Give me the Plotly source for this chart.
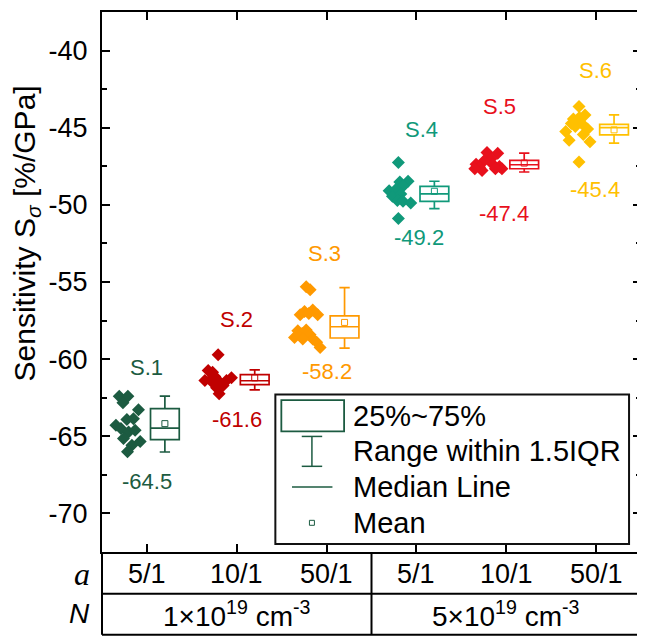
import plotly.graph_objects as go

# ---------------- data ----------------
samples = ["S.1", "S.2", "S.3", "S.4", "S.5", "S.6"]
ratio_labels = ["5/1", "10/1", "50/1", "5/1", "10/1", "50/1"]
doping_labels = ["1×10<sup>19</sup> cm<sup>-3</sup>", "5×10<sup>19</sup> cm<sup>-3</sup>"]
median_text = ["-64.5", "-61.6", "-58.2", "-49.2", "-47.4", "-45.4"]
colors = ["#1C5B41", "#C00000", "#FF9900", "#10997A", "#E8101C", "#FFC000"]
y_tick_vals = [-40, -45, -50, -55, -60, -65, -70]
y_tick_text = ["-40", "-45", "-50", "-55", "-60", "-65", "-70"]

s1_vals = [-62.40, -62.40, -62.83, -63.28, -63.92, -63.86, -64.29, -64.50, -64.72, -64.61, -65.15, -65.33, -65.58, -66.01]
s1_jit = [-0.308, -0.212, -0.267, -0.094, -0.223, -0.150, -0.345, -0.289, -0.204, -0.131, -0.261, -0.075, -0.167, -0.216]
s2_vals = [-59.71, -60.74, -60.85, -61.39, -61.34, -61.13, -61.60, -61.50, -61.39, -61.21, -61.71, -61.86, -62.25]
s2_jit = [-0.207, -0.318, -0.269, -0.355, -0.292, -0.244, -0.255, -0.188, -0.114, -0.059, -0.152, -0.225, -0.196]
s3_vals = [-55.30, -55.51, -57.13, -56.91, -56.82, -57.13, -57.04, -58.16, -58.33, -58.59, -58.11, -58.42, -58.69, -58.91, -59.24, -58.69]
s3_jit = [-0.227, -0.183, -0.294, -0.246, -0.154, -0.099, -0.198, -0.320, -0.272, -0.357, -0.227, -0.183, -0.154, -0.110, -0.072, -0.265]
s4_vals = [-47.25, -48.52, -48.47, -48.80, -49.08, -49.01, -49.44, -49.29, -49.72, -49.77, -49.88, -50.88]
s4_jit = [-0.201, -0.185, -0.093, -0.149, -0.304, -0.229, -0.267, -0.174, -0.212, -0.149, -0.063, -0.201]
s5_vals = [-46.60, -46.65, -47.01, -47.18, -47.36, -47.51, -47.66, -47.36, -47.57, -47.78, -47.66, -47.66]
s5_jit = [-0.214, -0.095, -0.170, -0.251, -0.151, -0.076, -0.048, -0.336, -0.298, -0.269, -0.121, -0.350]
s6_vals = [-43.63, -44.17, -44.43, -44.34, -44.60, -44.71, -44.73, -44.92, -45.25, -45.09, -45.44, -45.81, -45.91, -47.22]
s6_jit = [-0.190, -0.123, -0.253, -0.186, -0.220, -0.164, -0.275, -0.231, -0.338, -0.094, -0.142, -0.300, -0.068, -0.190]

point_values = [s1_vals, s2_vals, s3_vals, s4_vals, s5_vals, s6_vals]
point_jitter = [s1_jit, s2_jit, s3_jit, s4_jit, s5_jit, s6_jit]

# box statistics
box_lower = [-66.02, -61.99, -59.28, -50.24, -47.87, -46.00]
box_q1 = [-65.21, -61.65, -58.63, -49.77, -47.66, -45.46]
box_median = [-64.47, -61.40, -57.90, -49.29, -47.40, -44.99]
box_q3 = [-63.21, -61.00, -57.19, -48.80, -47.12, -44.78]
box_upper = [-62.40, -60.70, -55.36, -48.47, -46.65, -44.17]
box_mean = [-64.18, -61.21, -57.62, -49.12, -47.29, -45.14]

# label placement (data coordinates)
name_label_y = [-60.55, -57.40, -53.17, -45.12, -43.63, -41.26]
name_label_x = [1.0, 2.0, 2.98, 4.06, 4.92, 5.99]
value_label_y = [-67.95, -63.90, -60.81, -52.09, -50.54, -48.99]
value_label_x = [1.0, 2.0, 3.0, 4.03, 4.97, 5.99]

BOX_OFFSET = 0.2
BOX_WIDTH = 0.32
FONT = "Liberation Sans"

# --------------- figure ----------------
OFF = 8  # page body margin
W, H = 637, 628
ML, MR, MT, MB = 94, 2, 2, 84
PW, PH = W - ML - MR, H - MT - MB


def px(xp):  # page pixel x -> paper
    return (xp - OFF - ML) / PW


def py(yp):  # page pixel y -> paper
    return (H - MB - (yp - OFF)) / PH


fig = go.Figure()

for k in range(6):
    pos = k + 1
    fig.add_trace(go.Scatter(
        x=[pos + j for j in point_jitter[k]], y=point_values[k], mode="markers",
        marker=dict(symbol="diamond", size=10, color=colors[k], line=dict(width=0)),
        showlegend=False, hoverinfo="y"))
    fig.add_trace(go.Box(
        x=[pos + BOX_OFFSET], q1=[box_q1[k]], median=[box_median[k]], q3=[box_q3[k]],
        lowerfence=[box_lower[k]], upperfence=[box_upper[k]],
        width=BOX_WIDTH, whiskerwidth=0.36, fillcolor="rgba(255,255,255,0)",
        line=dict(color=colors[k], width=1.7), boxpoints=False, showlegend=False))
    fig.add_trace(go.Scatter(
        x=[pos + BOX_OFFSET], y=[box_mean[k]], mode="markers",
        marker=dict(symbol="square-open", size=6, color=colors[k], line=dict(width=1, color=colors[k])),
        showlegend=False, hoverinfo="y"))


def ann(x, y, text, size, color="black", xref="paper", yref="paper", xanchor="center", family=FONT, **kw):
    return dict(x=x, y=y, xref=xref, yref=yref, text=text, showarrow=False, xanchor=xanchor,
                yanchor="middle", font=dict(family=family, size=size, color=color), **kw)


annotations = []
for k in range(6):
    annotations.append(ann(name_label_x[k], name_label_y[k], samples[k], 22, colors[k], "x", "y"))
    annotations.append(ann(value_label_x[k], value_label_y[k], median_text[k], 22, colors[k], "x", "y"))

# y-axis title
annotations.append(ann(px(26), py(232), "Sensitivity S<sub><i>σ</i></sub> [%/GPa]", 30, textangle=-90))

# table below the axis
row_a_y, row_n_y = py(574), py(614)
for k in range(6):
    annotations.append(ann(k + 1, row_a_y, ratio_labels[k], 27, xref="x"))
for g in range(2):
    annotations.append(ann(2 + 3 * g, row_n_y, doping_labels[g], 28, xref="x"))
annotations.append(ann(px(92), row_a_y, "<i>a</i>", 32, xanchor="right", family="Liberation Serif"))
annotations.append(ann(px(92), row_n_y, "<i>N</i>", 28, xanchor="right"))

shapes = []
line_k = dict(color="black", width=2)
shapes.append(dict(type="line", xref="paper", yref="paper", x0=0, x1=1, y0=py(594), y1=py(594), line=line_k))
shapes.append(dict(type="line", xref="paper", yref="paper", x0=0, x1=1, y0=py(635), y1=py(635), line=line_k))
shapes.append(dict(type="line", xref="paper", yref="paper", x0=0, x1=0, y0=0, y1=py(635), line=line_k))
shapes.append(dict(type="line", xref="paper", yref="paper", x0=1, x1=1, y0=0, y1=py(635), line=line_k))
shapes.append(dict(type="line", xref="x", yref="paper", x0=3.5, x1=3.5, y0=0, y1=py(635), line=line_k))

# legend drawn manually
lg = colors[0]
shapes.append(dict(type="rect", xref="paper", yref="paper", x0=px(276), x1=px(631), y0=py(544), y1=py(394),
                   line=dict(color="#111111", width=2), fillcolor="white", layer="above"))
shapes.append(dict(type="rect", xref="paper", yref="paper", x0=px(282), x1=px(345), y0=py(431), y1=py(399.5),
                   line=dict(color=lg, width=1.8), layer="above"))
shapes.append(dict(type="line", xref="paper", yref="paper", x0=px(312.7), x1=px(312.7), y0=py(466), y1=py(436),
                   line=dict(color=lg, width=1.5), layer="above"))
for yy in (436, 466):
    shapes.append(dict(type="line", xref="paper", yref="paper", x0=px(302.5), x1=px(323), y0=py(yy), y1=py(yy),
                       line=dict(color=lg, width=1.5), layer="above"))
shapes.append(dict(type="line", xref="paper", yref="paper", x0=px(292.7), x1=px(333.3), y0=py(486.7), y1=py(486.7),
                   line=dict(color=lg, width=1.5), layer="above"))
shapes.append(dict(type="rect", xref="paper", yref="paper", x0=px(310.2), x1=px(315.2), y0=py(525.2), y1=py(520.2),
                   line=dict(color=lg, width=1), layer="above"))
legend_items = ["25%~75%", "Range within 1.5IQR", "Median Line", "Mean"]
legend_y = [415, 451, 487, 523]
for t, yy in zip(legend_items, legend_y):
    annotations.append(ann(px(352), py(yy), t, 29, xanchor="left"))

fig.update_layout(
    width=W, height=H, margin=dict(l=ML, r=MR, t=MT, b=MB, pad=0),
    paper_bgcolor="white", plot_bgcolor="white", boxmode="overlay",
    showlegend=False, annotations=annotations, shapes=shapes,
    xaxis=dict(range=[0.5, 6.5], tickvals=[1, 2, 3, 4, 5, 6], showticklabels=False,
               ticks="inside", ticklen=8, tickwidth=2, tickcolor="black",
               showline=True, linewidth=2, linecolor="black", mirror="ticks",
               showgrid=False, zeroline=False),
    yaxis=dict(range=[-72.5, -37.5], tickvals=y_tick_vals, ticktext=y_tick_text,
               ticks="inside", ticklen=8, tickwidth=2,
               tickcolor="black", showline=True, linewidth=2, linecolor="black", mirror="ticks",
               showgrid=False, zeroline=False, ticklabelstandoff=7,
               tickfont=dict(family=FONT, size=27, color="black"),
               minor=dict(ticks="inside", ticklen=5, tickwidth=2, tickcolor="black",
                          tick0=-37.5, dtick=5, showgrid=False)),
)

fig.write_html("out.html")
